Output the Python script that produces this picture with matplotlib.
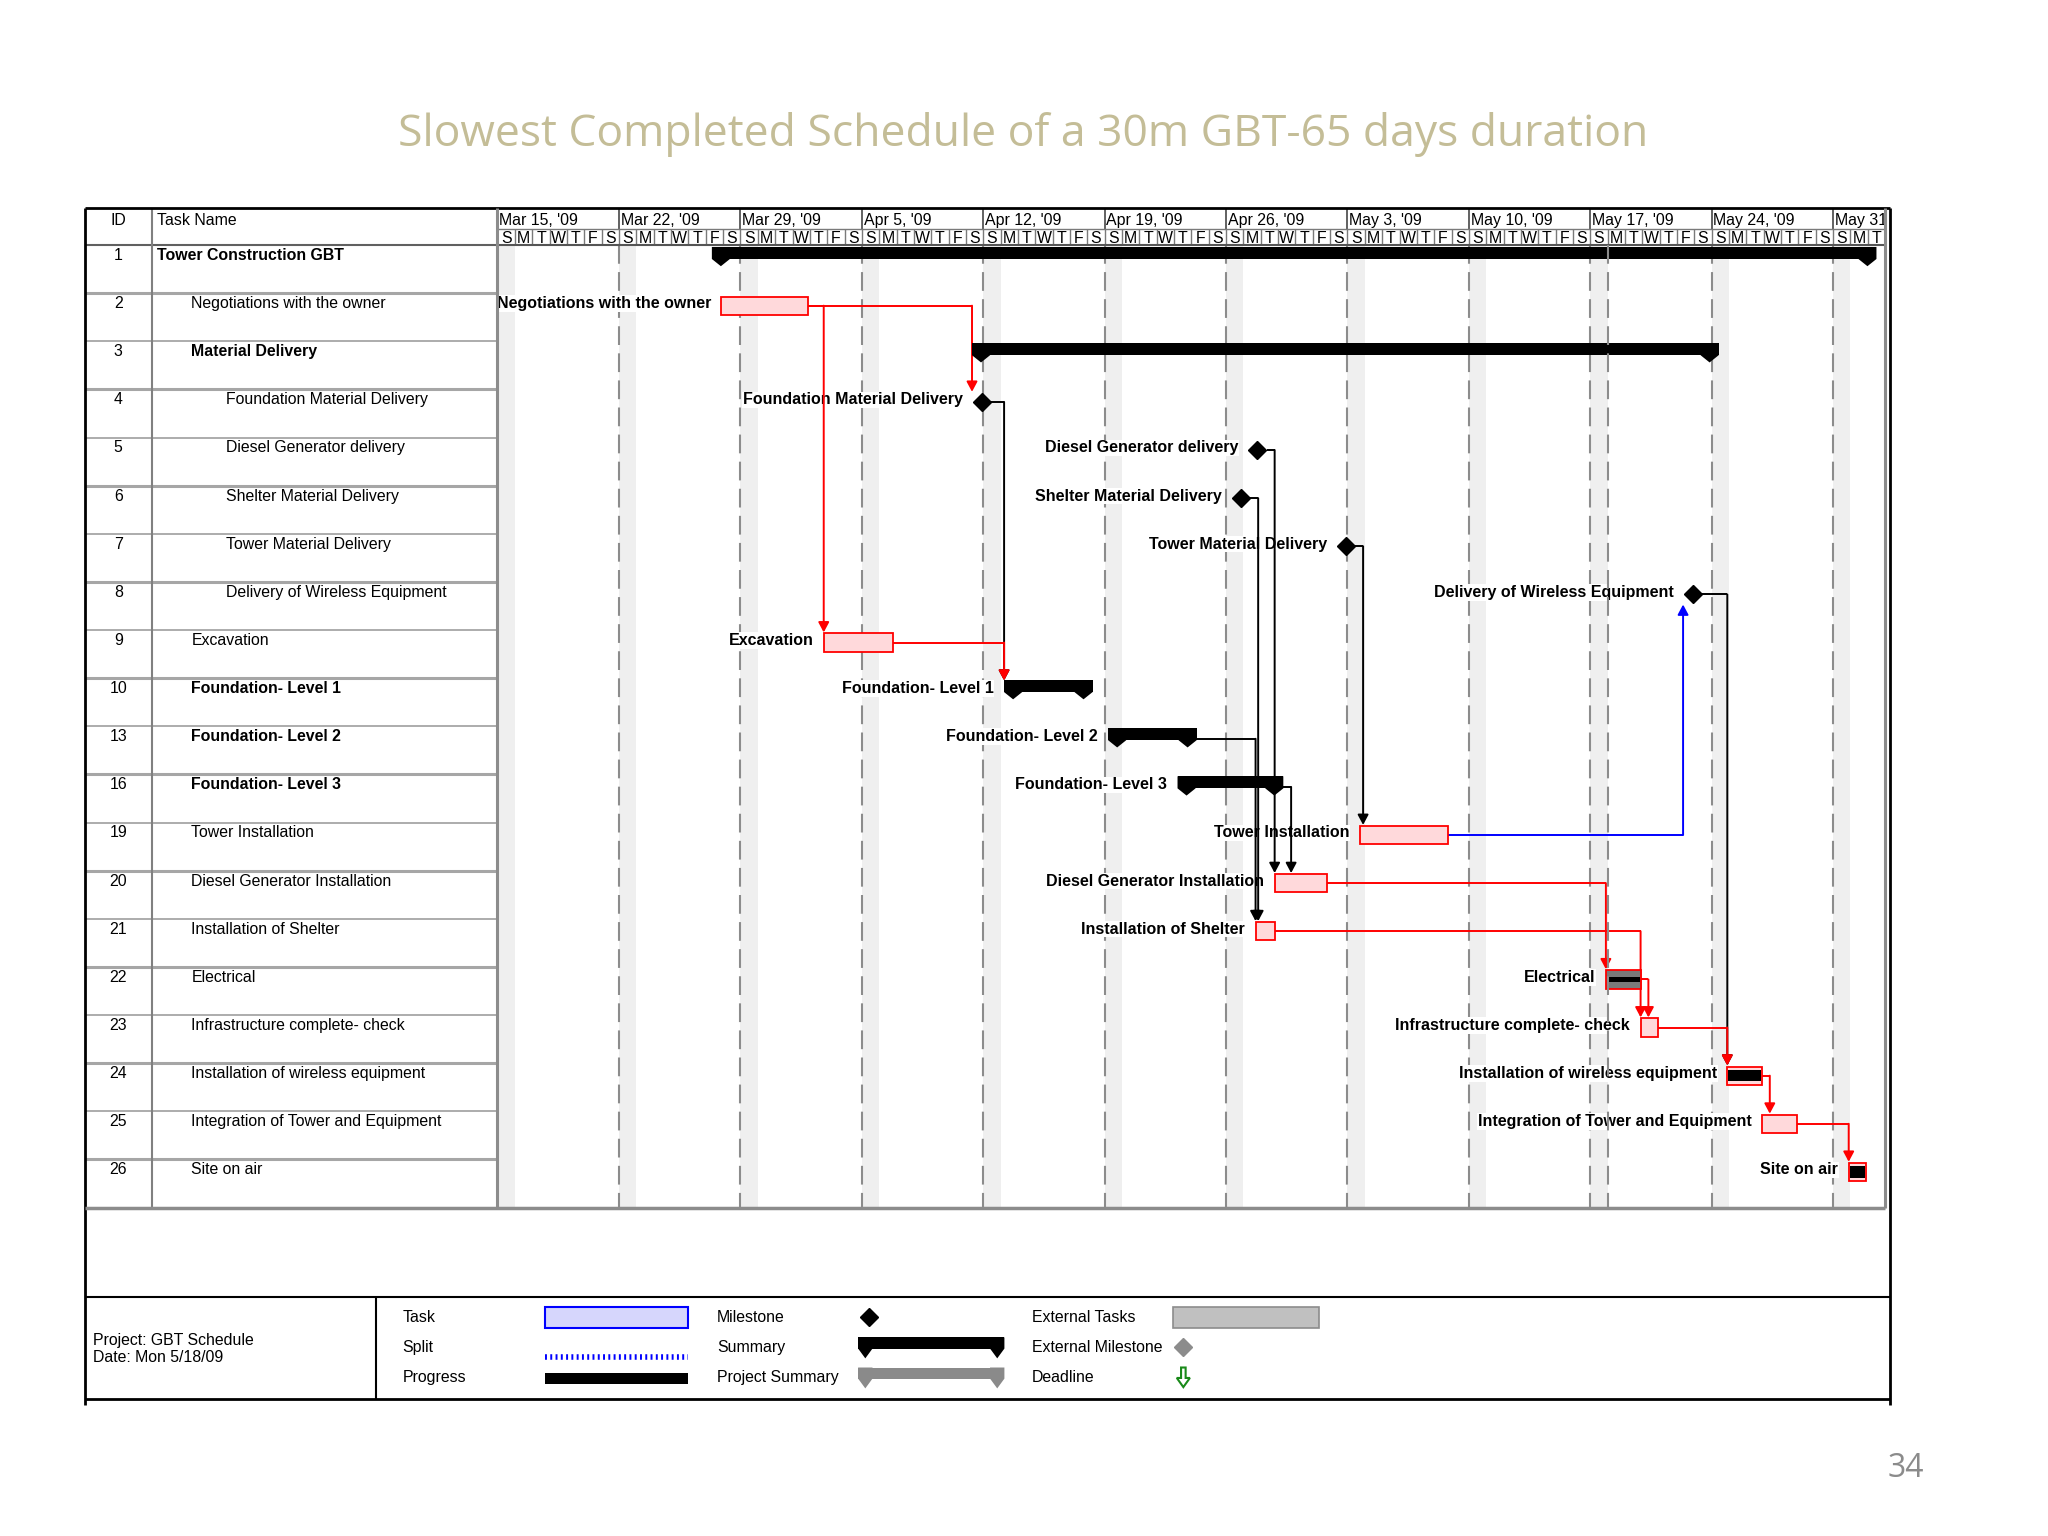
import matplotlib
matplotlib.use("Agg")
import matplotlib.pyplot as plt
from matplotlib.patches import Rectangle, Polygon, FancyArrow

plt.rcParams["font.family"] = ["Liberation Sans", "DejaVu Sans"]

# ─────────── 데이터 ───────────
task_ids = [1, 2, 3, 4, 5, 6, 7, 8, 9, 10, 13, 16, 19, 20, 21, 22, 23, 24, 25, 26]
task_names = [
    "Tower Construction GBT", "Negotiations with the owner", "Material Delivery",
    "Foundation Material Delivery", "Diesel Generator delivery", "Shelter Material Delivery",
    "Tower Material Delivery", "Delivery of Wireless Equipment", "Excavation",
    "Foundation- Level 1", "Foundation- Level 2", "Foundation- Level 3",
    "Tower Installation", "Diesel Generator Installation", "Installation of Shelter",
    "Electrical", "Infrastructure complete- check", "Installation of wireless equipment",
    "Integration of Tower and Equipment", "Site on air",
]
outline_level = [0, 1, 1, 2, 2, 2, 2, 2, 1, 1, 1, 1, 1, 1, 1, 1, 1, 1, 1, 1]
task_kind = ["summary", "task", "summary", "milestone", "milestone", "milestone",
             "milestone", "milestone", "task", "summary", "summary", "summary",
             "task", "task", "task", "task", "task", "task", "task", "task"]
# 날짜 = Sun Mar 15 '09 부터 경과 일수
start_day = [12.35, 12.9, 27.35, 27.9, 43.8, 42.85, 48.9, 68.9, 18.8, 29.2,
             35.2, 39.2, 49.7, 44.8, 43.7, 63.9, 65.9, 70.9, 72.9, 77.9]
finish_day = [79.5, 17.9, 70.4, 27.9, 43.8, 42.85, 48.9, 68.9, 22.8, 34.3,
              40.3, 45.3, 54.8, 47.8, 44.8, 65.9, 66.9, 72.9, 74.9, 78.9]
pct_complete = [0, 0, 0, 0, 0, 0, 0, 0, 0, 0, 0, 0, 0, 0, 0, 100, 0, 100, 0, 100]
unlabelled_ids = [1, 3]
# (선행 ID, 후행 ID, 색)
links = [
    (2, 4, "red"), (2, 9, "red"), (4, 10, "black"), (9, 10, "red"),
    (5, 20, "black"), (6, 21, "black"), (7, 19, "black"), (8, 24, "black"),
    (13, 21, "black"), (16, 20, "black"), (19, 8, "blue"),
    (20, 22, "red"), (21, 23, "red"), (22, 23, "red"), (23, 24, "red"),
    (24, 25, "red"), (25, 26, "red"),
]
week_labels = ["Mar 15, '09", "Mar 22, '09", "Mar 29, '09", "Apr 5, '09", "Apr 12, '09",
               "Apr 19, '09", "Apr 26, '09", "May 3, '09", "May 10, '09", "May 17, '09",
               "May 24, '09", "May 31, '09"]
day_letters = ["S", "M", "T", "W", "T", "F", "S"]
n_days = 80
status_day = 64
project_info = ["Project: GBT Schedule", "Date: Mon 5/18/09"]
legend_cols = [["Task", "Split", "Progress"],
               ["Milestone", "Summary", "Project Summary"],
               ["External Tasks", "External Milestone", "Deadline"]]

title = "Slowest Completed Schedule of a 30m GBT-65 days duration"
page_no = "34"

# ─────────── 레이아웃 (참조 이미지 1568x1176 기준) ───────────
W, H = 1568, 1176
TOP, HDR_BOT, BOT = 159.5, 187.6, 924.5
N = len(task_ids)
ROW = (BOT - HDR_BOT) / N
HDR = (HDR_BOT - TOP) / ROW
FS = 11.4
GRAY = "#8c8c8c"


def box(x0, y0, x1, y1):
    return [x0 / W, 1 - y1 / H, (x1 - x0) / W, (y1 - y0) / H]


def draw_summary(ax, s, f, top, bar_h, cap_h, cap_w, color, z=5):
    ax.add_patch(Rectangle((s, top), f - s, bar_h, color=color, lw=0, zorder=z))
    for x0 in (s, f - cap_w):
        pts = [(x0, top), (x0 + cap_w, top), (x0 + cap_w, top + bar_h),
               (x0 + cap_w / 2, top + cap_h), (x0, top + bar_h)]
        ax.add_patch(Polygon(pts, closed=True, color=color, lw=0, zorder=z))


fig = plt.figure(figsize=(20.48, 15.36), dpi=100)

ax_tab = fig.add_axes(box(65, TOP, 380.5, BOT))
ax_tab.set_xlim(65, 380.5)
ax_tab.set_ylim(N, -HDR)
ax_tab.set_axis_off()

ax_g = fig.add_axes(box(380.5, TOP, 1443.3, BOT))
ax_g.set_xlim(-0.04, n_days)
ax_g.set_ylim(N, -HDR)
ax_g.set_axis_off()

ax_p = fig.add_axes([0, 0, 1, 1], zorder=5)
ax_p.set_xlim(0, W)
ax_p.set_ylim(H, 0)
ax_p.set_axis_off()

# ─────────── 표 (ID / Task Name) ───────────
ax_tab.text(90.5, -0.42, "ID", ha="center", va="baseline", fontsize=FS)
ax_tab.text(120, -0.42, "Task Name", ha="left", va="baseline", fontsize=FS)
ax_tab.hlines(0, 65, 380.5, colors="#606060", lw=1.5)
for r in range(1, N):
    ax_tab.hlines(r, 65, 380.5, colors="#a6a6a6", lw=2.2 if r % 2 else 1.3)
ax_tab.vlines(116.5, -HDR, N, colors="#808080", lw=1.5)
for r, (tid, name) in enumerate(zip(task_ids, task_names)):
    ax_tab.text(90.5, r + 0.31, str(tid), ha="center", va="baseline", fontsize=FS)
    ax_tab.text(120 + 26.5 * outline_level[r], r + 0.31, name, ha="left", va="baseline",
                fontsize=FS, fontweight="bold" if task_kind[r] == "summary" else "normal")

# ─────────── 타임라인 헤더 ───────────
tier = -HDR + 0.42
for k, lab in enumerate(week_labels):
    ax_g.text(7 * k + 0.1, -0.42, lab, ha="left", va="baseline", fontsize=FS, clip_on=True)
ax_g.vlines(range(7, n_days, 7), -HDR, tier, colors="#555555", lw=1.3)
ax_g.vlines(range(1, n_days), tier, 0, colors="#7a7a7a", lw=1.0)
for d in range(n_days):
    ax_g.text(d + 0.5, -0.04, day_letters[d % 7], ha="center", va="baseline", fontsize=FS)
ax_g.hlines(tier, 0, n_days, colors="#7a7a7a", lw=1.0)
ax_g.hlines(0, -0.04, n_days, colors="#555555", lw=1.5)

# ─────────── 간트 그리드 ───────────
for d in range(0, n_days, 7):
    ax_g.add_patch(Rectangle((d, 0), 1, N, color="#efefef", lw=0, zorder=0))
ax_g.vlines(range(7, n_days, 7), 0, N, colors=GRAY, lw=1.5, linestyles=(0, (9, 4)), zorder=1)
ax_g.vlines(status_day, 0, N, colors=GRAY, lw=1.5, linestyles=(0, (9, 4)), zorder=7)

# ─────────── 막대 / 마일스톤 ───────────
for r in range(N):
    s, f, kind = start_day[r], finish_day[r], task_kind[r]
    yc = r + 0.26
    if kind == "summary":
        draw_summary(ax_g, s, f, r + 0.04, 0.25, 0.40, 1.04, "black")
    elif kind == "milestone":
        ax_g.plot(s, yc, marker="D", ms=9, color="black", zorder=5)
    else:
        fill = "#7a7a7a" if task_ids[r] == 22 else "#ffd9db"
        ax_g.add_patch(Rectangle((s, r + 0.07), f - s, 0.38, facecolor=fill,
                                 edgecolor="red", lw=1.3, zorder=5))
        if pct_complete[r]:
            ph = 0.1 if task_ids[r] == 22 else 0.24
            ax_g.add_patch(Rectangle((s + 0.05, yc - ph / 2), (f - s - 0.1) * pct_complete[r] / 100,
                                     ph, color="black", lw=0, zorder=6))
    if task_ids[r] not in unlabelled_ids:
        lx = s - (1.1 if kind == "milestone" else 0.6)
        ax_g.text(lx, r + 0.31, task_names[r], ha="right", va="baseline", fontsize=11.5,
                  fontweight="bold", zorder=3,
                  bbox=dict(facecolor="white", edgecolor="none", pad=0.6))

# ─────────── 연결선 ───────────
row_of = {tid: r for r, tid in enumerate(task_ids)}
for a, b, c in links:
    i, j = row_of[a], row_of[b]
    out_x = finish_day[i] + (0.55 if task_kind[i] == "milestone" else 0)
    in_x = start_day[j] - (0.55 if task_kind[j] == "milestone" else 0)
    drop = max(in_x, out_x + 0.45)
    y0 = i + 0.26
    tip = j + 0.05 if j > i else j + 0.47
    z = 4.5 if c == "red" else 4
    ax_g.plot([out_x, drop], [y0, y0], color=c, lw=1.4, zorder=z, solid_capstyle="butt")
    ax_g.annotate("", xy=(drop, tip), xytext=(drop, y0), zorder=z,
                  arrowprops=dict(arrowstyle="-|>,head_length=0.6,head_width=0.32",
                                  color=c, lw=1.4, shrinkA=0, shrinkB=0))

# ─────────── 테두리 ───────────
ax_p.hlines(TOP, 65, 1447, colors="black", lw=2)
ax_p.vlines([65, 1447], TOP, 1076, colors="black", lw=2)
ax_p.hlines(993, 65, 1447, colors="black", lw=1.5)
ax_p.hlines(1071, 65, 1447, colors="black", lw=2)
ax_p.vlines(287.5, 993, 1071, colors="black", lw=1.5)
ax_p.hlines(BOT, 65, 1443.3, colors=GRAY, lw=2.5)
ax_p.vlines([380.5, 1443.3], TOP, BOT, colors=GRAY, lw=2.2)

# ─────────── 범례 ───────────
for k, line in enumerate(project_info):
    ax_p.text(71.5, 1026 + 13.5 * k, line, ha="left", va="center", fontsize=FS)
rows_y = [1008.5, 1031.5, 1055]
for col, x in zip(legend_cols, [308, 549, 790]):
    for lab, y in zip(col, rows_y):
        ax_p.text(x, y, lab, ha="left", va="center", fontsize=FS)
ax_p.add_patch(Rectangle((417, 1001), 110, 16, facecolor="#d6d6fc", edgecolor="#0000ff", lw=1.5))
ax_p.plot([417, 527], [1039, 1039], color="#0000ff", lw=4, linestyle=(0, (0.35, 0.6)))
ax_p.add_patch(Rectangle((417, 1051), 110, 9, color="black", lw=0))
ax_p.plot(665, 1008.5, marker="D", ms=9, color="black")
draw_summary(ax_p, 657, 769, 1024, 8.5, 16, 11, "black")
draw_summary(ax_p, 657, 769, 1047, 8.5, 16, 11, "#8a8a8a")
ax_p.add_patch(Rectangle((898, 1001), 112, 16, facecolor="#c0c0c0", edgecolor="#8c8c8c", lw=1.2))
ax_p.plot(906, 1031.5, marker="D", ms=9, color="#8c8c8c")
ax_p.add_patch(FancyArrow(906, 1047, 0, 15, width=3.5, head_width=10, head_length=7,
                          length_includes_head=True, facecolor="white",
                          edgecolor="#1a8a1a", lw=1.5))

# ─────────── 제목 / 페이지 ───────────
ax_p.text(783.5, 112, title, ha="center", va="baseline", fontsize=32,
          family=["Open Sans", "DejaVu Sans"], color="#c4bd97")
ax_p.text(1445, 1131, page_no, ha="left", va="baseline", fontsize=23,
          family=["Open Sans", "DejaVu Sans"], color="#8b8b8b")

fig.savefig("out.png", dpi=100)
plt.close(fig)
